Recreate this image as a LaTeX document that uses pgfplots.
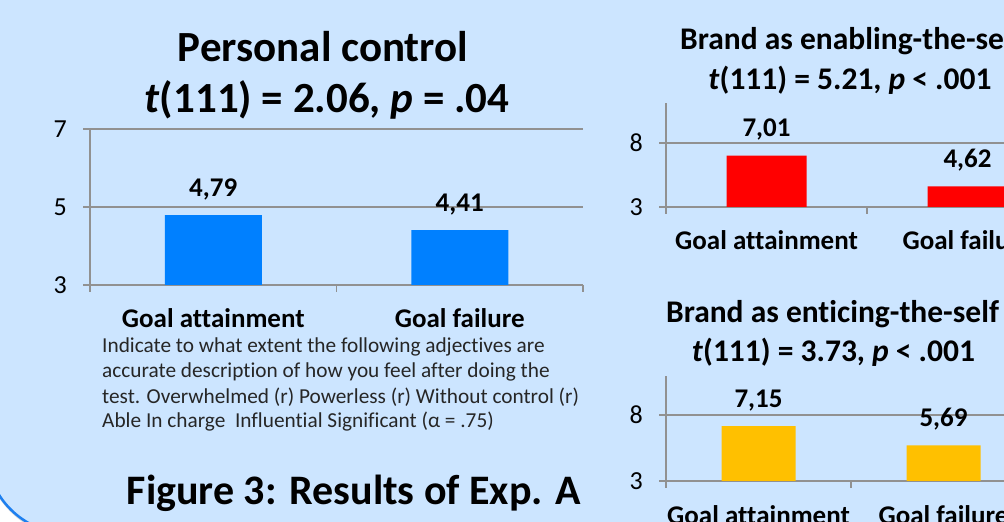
\documentclass[border=0pt]{standalone}
\usepackage{pgfplots}
\pgfplotsset{compat=1.18}
\usepackage{fontspec}
\setmainfont{Carlito}[Ligatures=NoCommon]
\definecolor{bg}{RGB}{204,229,255}
\definecolor{framecol}{RGB}{30,128,240}
\definecolor{gridgray}{RGB}{145,145,145}
\definecolor{barblue}{RGB}{0,128,255}
\definecolor{barred}{RGB}{255,0,0}
\definecolor{baryellow}{RGB}{255,192,0}
\pgfplotsset{
  excelbar/.style={
    scale only axis, anchor=south west,
    ybar, xmin=-0.5, xmax=1.5, ymin=3,
    axis x line*=bottom, axis y line*=left,
    axis line style={draw=gridgray, line width=1.8pt, -},
    ymajorgrids, grid style={draw=gridgray, line width=1.8pt},
    major tick style={draw=gridgray, line width=1.8pt},
    tick align=outside, major tick length=7pt,
    xtick={-0.5,0.5,1.5}, x tick label as interval,
    xticklabels={Goal attainment, Goal failure},
    xticklabel style={font=\fontsize{27}{27}\selectfont\bfseries, anchor=base, yshift=-36pt},
    yticklabel style={font=\fontsize{26}{26}\selectfont, anchor=east, inner sep=0pt, xshift=-16pt},
    /pgf/number format/assume math mode=true,
    nodes near coords, point meta=explicit symbolic,
    every node near coord/.append style={font=\fontsize{27}{27}\selectfont\bfseries, anchor=base, yshift=19pt},
  }
}
\begin{document}
\begin{tikzpicture}
\useasboundingbox (0pt,0pt) rectangle (1004pt,522pt);
\clip (0pt,0pt) rectangle (1004pt,522pt);
\fill[white] (-5pt,-5pt) rectangle (1010pt,530pt);
\draw[black!15, line width=4pt] (37pt,-6pt) arc[start angle=245, end angle=205, radius=88pt];
\fill[bg] (0pt,25.6pt) -- (0pt,530pt) -- (1010pt,530pt) -- (1010pt,0pt) -- (26.7pt,0pt)
  arc[start angle=239, end angle=213.5, radius=84pt] -- cycle;
\draw[framecol, line width=2.5pt] (34.5pt,-4.1pt) arc[start angle=245, end angle=207, radius=84pt];

% Chart 1: Personal control
\begin{axis}[excelbar, at={(90pt,237pt)}, width=493pt, height=156pt,
  ymax=7, ytick={3,5,7}, bar width=97pt]
\addplot[fill=barblue, draw=none] coordinates {(0,4.79) [4{,}79] (1,4.41) [4{,}41]};
\end{axis}

% Chart 2: Brand as enabling-the-self
\begin{axis}[excelbar, at={(666pt,315pt)}, width=402pt, height=104pt,
  ymax=11.125, ytick={3,8}, bar width=80pt]
\addplot[fill=barred, draw=none] coordinates {(0,7.01) [7{,}01] (1,4.62) [4{,}62]};
\end{axis}

% Chart 3: Brand as enticing-the-self
\begin{axis}[excelbar, at={(666pt,41pt)}, width=370pt, height=105pt,
  ymax=10.95, ytick={3,8}, bar width=74pt]
\addplot[fill=baryellow, draw=none] coordinates {(0,7.15) [7{,}15] (1,5.69) [5{,}69]};
\end{axis}

% Titles
\node[anchor=base, font=\fontsize{43}{50}\selectfont\bfseries] at (323pt,460pt) {Personal control};
\node[anchor=base, font=\fontsize{43}{50}\selectfont\bfseries] at (327pt,409pt) {\textit{t}(111) = 2.06, \textit{p} = .04};
\node[anchor=base west, inner sep=0pt, font=\fontsize{31.5}{36}\selectfont\bfseries] at (680pt,472pt) {Brand as enabling-the-self};
\node[anchor=base, font=\fontsize{31.5}{36}\selectfont\bfseries] at (850pt,432pt) {\textit{t}(111) = 5.21, \textit{p} < .001};
\node[anchor=base, font=\fontsize{31.5}{36}\selectfont\bfseries] at (832.5pt,199pt) {Brand as enticing-the-self};
\node[anchor=base, font=\fontsize{31.5}{36}\selectfont\bfseries] at (833.5pt,160pt) {\textit{t}(111) = 3.73, \textit{p} < .001};

% Description
\begin{scope}[every node/.style={anchor=base west, inner sep=0pt, font=\fontsize{21.3}{25}\selectfont, text=black!85}]
\node at (102pt,169pt) {Indicate to what extent the following adjectives are};
\node at (102pt,144pt) {accurate description of how you feel after doing the};
\node at (102pt,118pt) {test. Overwhelmed (r) Powerless (r) Without control (r)};
\node at (102pt,94pt) {Able In charge\ \ Influential\ Significant (α = .75)};
\end{scope}

\node[anchor=base, font=\fontsize{42}{50}\selectfont\bfseries] at (354pt,17pt) {Figure 3: Results of Exp. A};
\end{tikzpicture}
\end{document}
